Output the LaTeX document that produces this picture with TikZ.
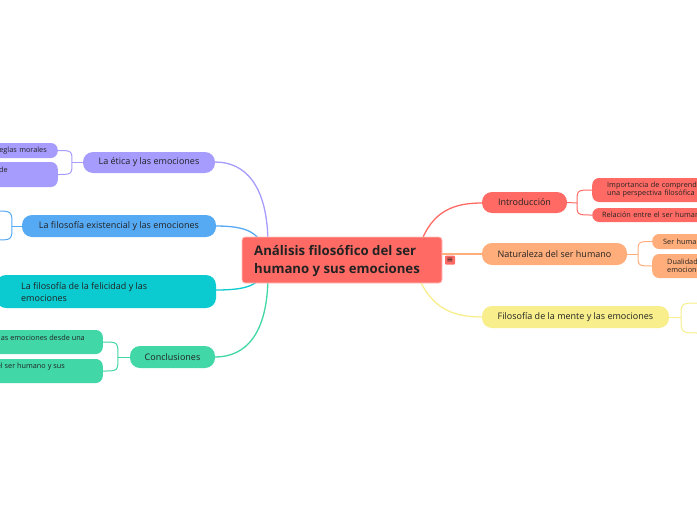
\documentclass[tikz,border=0pt]{standalone}
\usepackage{fontspec}
\setmainfont{Open Sans}
\newfontfamily\dejavu{DejaVu Sans}
\definecolor{cred}{HTML}{FF6B64}
\definecolor{cpeach}{HTML}{FFAE7B}
\definecolor{cyel}{HTML}{F8EF8C}
\definecolor{clav}{HTML}{A59CFD}
\definecolor{cblue}{HTML}{56AAF4}
\definecolor{cteal}{HTML}{0BCBD0}
\definecolor{cgreen}{HTML}{41D7A6}
\definecolor{ctext}{HTML}{222222}
\begin{document}
\begin{tikzpicture}[x=1pt,y=-1pt,
  branch/.style={rounded corners=10pt, inner sep=0pt, font=\fontsize{9}{11}\selectfont, text=ctext},
  leaf/.style={rounded corners=7pt, inner ysep=0pt, font=\fontsize{7.3}{10}\selectfont, text=ctext},
  leaftxt/.style={inner sep=0pt, text=ctext, font=\fontsize{7.3}{8}\selectfont},
  conn/.style={line width=1.3pt},
  sub/.style={line width=1pt},
]
\clip (0,0) rectangle (697,520);
\fill[white] (0,0) rectangle (697,520);

% ---- connectors, main
\draw[conn, clav]   (268,245) .. controls (268,185) and (245,162) .. (215,162);
\draw[conn, cblue]  (262,245) .. controls (256,229) and (238,226) .. (215,226);
\draw[conn, cteal]  (262,275) .. controls (256,288) and (238,290) .. (215,290);
\draw[conn, cgreen] (268,275) .. controls (268,335) and (245,357) .. (215,357);
\draw[conn, cred]   (420,245) .. controls (432,210) and (455,203) .. (482,203);
\draw[conn, cpeach] (440,254) -- (482,254);
\draw[conn, cyel]   (418,276) .. controls (432,310) and (455,317) .. (482,317);

% ---- central
\node[fill=cred, draw=cred!40!white, line width=0.8pt, rounded corners=3pt,
      minimum width=200pt, minimum height=46pt, inner sep=0pt] (center) at (342,260) {};
\node[anchor=west, align=left, inner sep=0pt, text=ctext,
      font=\fontsize{13.2}{18}\bfseries\selectfont] (centertxt) at (254,261)
      {Análisis filosófico del ser\\humano y sus emociones};
\node[fill=cred, rounded corners=1pt, minimum width=10pt, minimum height=9pt, inner sep=0pt,
      font=\dejavu\fontsize{8}{8}\selectfont, text=ctext] (menu) at (450,260) {≡};

% ---- right branches
\node[branch, fill=cred, minimum width=85pt, minimum height=21pt] (intro) at (524.5,202.5) {Introducción};
\node[branch, fill=cpeach, minimum width=145pt, minimum height=22pt] (nat) at (554.5,254) {Naturaleza del ser humano};
\node[branch, fill=cyel, minimum width=187pt, minimum height=22pt] (mente) at (575.5,317) {Filosofía de la mente y las emociones};

% ---- left branches
\node[branch, fill=clav, minimum width=132pt, minimum height=21pt] (etica) at (149,162.5) {La ética y las emociones};
\node[branch, fill=cblue, minimum width=194pt, minimum height=22pt] (exist) at (119,226) {La filosofía existencial y las emociones};
\node[branch, fill=cteal, minimum width=220pt, minimum height=33pt] (feli) at (106,291.5) {};
\node[anchor=west, align=left, inner sep=0pt, text=ctext, font=\fontsize{9}{12}\selectfont] (felitxt) at (21,292)
      {La filosofía de la felicidad y las\\emociones};
\node[branch, fill=cgreen, minimum width=85pt, minimum height=22pt] (concl) at (172.5,357) {Conclusiones};

% ---- leaves: Introducción
\coordinate (jintro) at (577,203);
\draw[sub, cred] (intro.east) -- (jintro);
\draw[sub, cred] (jintro) .. controls (577,190) .. (592,190);
\draw[sub, cred] (jintro) .. controls (577,215) .. (592,215);
\node[leaf, fill=cred, anchor=west, minimum height=24pt, text width=140pt, inner xsep=15pt, align=left] (i1) at (592,190)
      {Importancia de comprender\\[-2pt]una perspectiva filosófica};
\node[leaf, fill=cred, anchor=west, minimum height=14pt, text width=140pt, inner xsep=10pt, align=left] (i2) at (592,215)
      {Relación entre el ser humano};

% ---- leaves: Naturaleza
\coordinate (jnat) at (638,254);
\draw[sub, cpeach] (nat.east) -- (jnat);
\draw[sub, cpeach] (jnat) .. controls (638,241.5) .. (652,241.5);
\draw[sub, cpeach] (jnat) .. controls (638,266) .. (652,266);
\node[leaf, fill=cpeach, anchor=west, minimum height=15pt, text width=80pt, inner xsep=11pt, align=left] (n1) at (652,241.5)
      {Ser humano};
\node[leaf, fill=cpeach, anchor=west, minimum height=24pt, text width=80pt, inner xsep=15pt, align=left] (n2) at (652,266)
      {Dualidad\\[-2pt]emociones};

% ---- leaves: mente
\coordinate (jmente) at (681,317);
\draw[sub, cyel] (mente.east) -- (jmente);
\draw[sub, cyel] (jmente) .. controls (681,303) .. (700,303);
\draw[sub, cyel] (jmente) .. controls (681,333) .. (700,333);

% ---- leaves: ética
\coordinate (jetica) at (72,162.5);
\draw[sub, clav] (etica.west) -- (jetica);
\draw[sub, clav] (jetica) .. controls (72,150.5) .. (57,150.5);
\draw[sub, clav] (jetica) .. controls (72,174.5) .. (57,174.5);
\node[leaf, fill=clav, anchor=east, minimum height=15pt, text width=100pt, inner xsep=11pt, align=right] (e1) at (58,150.5)
      {las reglas morales};
\node[leaf, fill=clav, anchor=east, minimum height=25pt, minimum width=100pt] (e2) at (58,174.5) {};
\node[leaftxt, anchor=west] (e2txt) at (-1,170) {de};

% ---- leaves: existencial
\coordinate (jexist) at (12,226);
\draw[sub, cblue] (exist.west) -- (jexist);
\draw[sub, cblue] (jexist) .. controls (12,211) .. (-5,211);
\draw[sub, cblue] (jexist) .. controls (12,240) .. (-5,240);

% ---- leaves: conclusiones
\coordinate (jconcl) at (118,357);
\draw[sub, cgreen] (concl.west) -- (jconcl);
\draw[sub, cgreen] (jconcl) .. controls (118,342) .. (103,342);
\draw[sub, cgreen] (jconcl) .. controls (118,371) .. (103,371);
\node[leaf, fill=cgreen, anchor=east, minimum height=24pt, minimum width=130pt] (c1) at (103,342) {};
\node[leaftxt, anchor=east] (c1txt) at (85,338) {las emociones desde una};
\node[leaf, fill=cgreen, anchor=east, minimum height=24pt, minimum width=130pt] (c2) at (103,371) {};
\node[leaftxt, anchor=east] (c2txt) at (65,367) {el ser humano y sus};
\end{tikzpicture}
\end{document}
